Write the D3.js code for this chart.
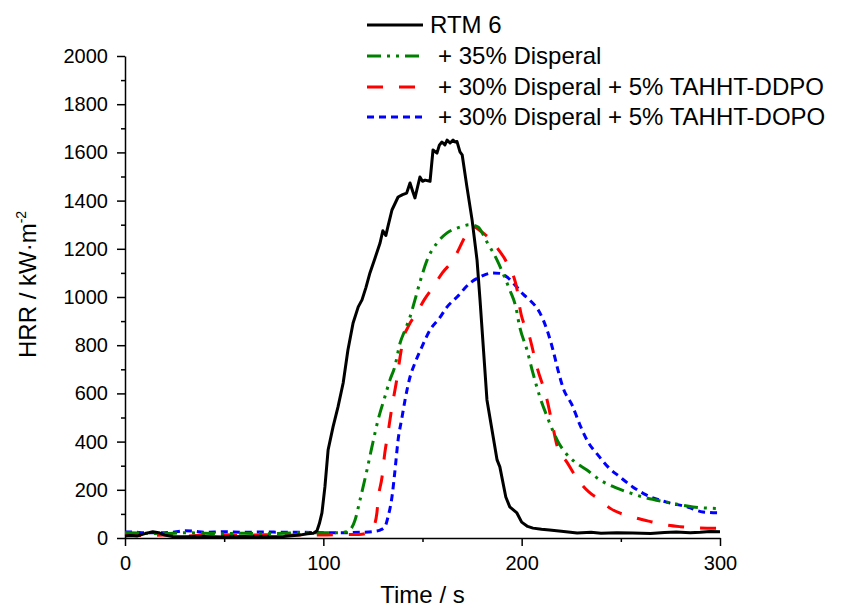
<!doctype html>
<html>
<head>
    <meta charset="UTF-8">
    <script src="https://d3js.org/d3.v7.min.js"></script>
    <title></title>
</head>

<body style="margin:0;background:#fff">

<style>
    text {
        font-family: "Liberation Sans", Arial, sans-serif;
        fill: #000000;
    }
</style>

<div id="graph"></div>

<script>
    // series (time in s, HRR in kW/m2)
    var rtmT = [0,3,6,10,14,17,20,24,30,40,50,60,70,80,88,92,95,96.8,98,99.3,100.8,102.4,104.9,107.4,110,112.4,115,117.6,119.5,121.5,123.5,126,128.6,130,131.5,132.5,134.6,137.7,140,142,143.7,145,146.2,148.7,150,151.3,153.8,155.3,157.3,158.5,159.8,161.3,162.4,163.9,165.4,166.4,167.4,168.9,170,172.4,175,177.5,179,182.5,187.6,189,192,194,197.6,200,203,205.7,210,214,220,228,235,240,248,256,265,272,278,285,290,295,300];
    var rtmV = [8,10,8,18,26,22,12,6,5,6,4,6,5,6,12,18,20,30,60,104,212,365,461,544,643,780,892,959,988,1040,1100,1160,1224,1275,1255,1290,1361,1415,1425,1431,1473,1440,1411,1498,1480,1485,1480,1610,1597,1630,1643,1631,1651,1639,1651,1643,1645,1602,1590,1457,1320,1153,988,573,324,295,170,129,104,66,48,41,36,33,28,21,24,20,22,21,19,23,25,22,24,27,26];

    var dispT = [0,10,20,30,40,50,60,70,80,90,100,108,111,113.4,116,118.5,122,124.5,127.6,131,133.6,136,138.7,141.2,143.7,146.2,149,152.3,157.3,162.4,168.9,174,178,182.5,187.6,191,194,197,199,202.7,205.7,209.2,213,216,219,221,226.9,232.9,239.5,248,254.6,263,273,286.4,300];
    var dispV = [22,20,18,22,20,18,20,18,20,22,22,22,25,33,75,158,282,378,490,585,656,710,809,863,917,988,1070,1153,1224,1266,1290,1300,1290,1228,1153,1090,1029,960,876,780,684,585,500,440,390,365,315,282,241,207,187,166,149,129,122];

    var ddpoT = [0,10,20,30,40,50,60,70,80,90,100,110,118,122,125,127,127.6,129.6,131,132.6,134.6,137,138.7,140.2,143,147.2,151,155.3,160,165.4,171.4,174,176,179,183,188,192.6,198,199,204,207.7,212.8,215.5,218.3,222.8,228.4,234,239.5,244.5,256,265,273,280,290,300];
    var ddpoV = [12,10,12,8,12,14,10,14,10,14,12,15,15,20,40,104,158,253,353,436,544,656,751,822,880,935,990,1041,1100,1153,1249,1285,1290,1275,1249,1200,1141,1017,959,834,710,573,470,370,315,241,190,158,124,87,68,54,47,41,40];

    var dopoT = [0,5,10,20,25,30,35,40,50,60,70,80,90,100,110,120,126,128.6,131,132.6,134.6,136,137.7,139.7,141.2,143.7,146.2,149.7,153.8,158.8,162,167.4,174,179,185.5,189,192.6,197.6,201,204,209.2,212.8,215.8,218.3,221,225.4,229.4,233.5,238.5,243.5,249.6,256,263,273,283.4,291.4,300];
    var dopoV = [25,24,22,22,25,30,28,24,26,24,25,24,24,22,22,24,28,33,46,87,170,270,407,502,573,668,726,793,863,915,955,1000,1058,1083,1100,1098,1083,1041,1010,988,934,863,780,697,620,552,469,398,344,295,253,212,178,149,129,108,104];

    var seriesNames = ["RTM 6", "+ 35% Disperal", "+ 30% Disperal + 5% TAHHT-DDPO", "+ 30% Disperal + 5% TAHHT-DOPO"];
    var seriesColors = ["#000000", "#008000", "#ff0000", "#0000ff"];
    var seriesDash = [null, "14,6,3,6,3,6", "16,16", "7,5"];

    var xTicks = [0, 100, 200, 300];
    var yTicks = [0, 200, 400, 600, 800, 1000, 1200, 1400, 1600, 1800, 2000];

    var w = 843, h = 610;
    var vis = d3.select("#graph").append("svg")
            .attr("width", w)
            .attr("height", h);

    var x = d3.scaleLinear().domain([0, 300]).range([125, 720]);
    var y = d3.scaleLinear().domain([0, 2000]).range([538, 56]);

    var series = [
        {t: rtmT, v: rtmV},
        {t: dispT, v: dispV},
        {t: ddpoT, v: ddpoV},
        {t: dopoT, v: dopoV}
    ];
    series.forEach(function(s, i) {
        s.name = seriesNames[i];
        s.color = seriesColors[i];
        s.dash = seriesDash[i];
        s.pts = s.t.map(function(t, j) { return [t, s.v[j]]; });
    });

    // minor ticks first, then major axes on top
    vis.append("g")
            .attr("transform", "translate(125,0)")
            .call(d3.axisLeft(y).tickValues(d3.range(100, 2000, 200)).tickSize(4).tickFormat("").tickSizeOuter(0))
            .call(function(g) { g.select(".domain").remove(); })
            .selectAll("line").attr("stroke-width", 1.5);
    vis.append("g")
            .attr("transform", "translate(0,538)")
            .call(d3.axisBottom(x).tickValues([50, 150, 250]).tickSize(4).tickFormat("").tickSizeOuter(0))
            .call(function(g) { g.select(".domain").remove(); })
            .selectAll("line").attr("stroke-width", 1.5);

    var yAxis = vis.append("g")
            .attr("transform", "translate(125,0)")
            .call(d3.axisLeft(y).tickValues(yTicks).tickFormat(d3.format("d")).tickSize(8).tickPadding(9).tickSizeOuter(0));
    var xAxis = vis.append("g")
            .attr("transform", "translate(0,538)")
            .call(d3.axisBottom(x).tickValues(xTicks).tickFormat(d3.format("d")).tickSize(8).tickPadding(10).tickSizeOuter(0));

    [yAxis, xAxis].forEach(function(a) {
        a.select(".domain").attr("stroke-width", 1.5);
        a.selectAll("line").attr("stroke-width", 1.5);
        a.selectAll("text")
                .style("font-family", '"Liberation Sans", Arial, sans-serif')
                .style("font-size", "20px")
                .attr("fill", "#000");
    });

    // curves
    var lineSmooth = d3.line()
            .x(function(d) { return x(d[0]); })
            .y(function(d) { return y(d[1]); })
            .curve(d3.curveMonotoneX);
    var lineRaw = d3.line()
            .x(function(d) { return x(d[0]); })
            .y(function(d) { return y(d[1]); });

    vis.selectAll(".curve")
            .data(series.slice().reverse())
            .enter()
            .append("path")
            .attr("class", "curve")
            .attr("d", function(d) { return d.dash ? lineSmooth(d.pts) : lineRaw(d.pts); })
            .attr("fill", "none")
            .attr("stroke", function(d) { return d.color; })
            .attr("stroke-width", 3)
            .attr("stroke-linejoin", "round")
            .attr("stroke-dasharray", function(d) { return d.dash; });

    // legend
    var legY = [25, 56, 87, 117];
    var legTx = [430, 438, 438, 438];
    var leg = vis.selectAll(".leg")
            .data(series)
            .enter()
            .append("g")
            .attr("class", "leg");
    leg.append("line")
            .attr("x1", 367).attr("x2", 423)
            .attr("y1", function(d, i) { return legY[i]; })
            .attr("y2", function(d, i) { return legY[i]; })
            .attr("stroke", function(d) { return d.color; })
            .attr("stroke-width", 3)
            .attr("stroke-dasharray", function(d) { return d.dash; });
    leg.append("text")
            .attr("x", function(d, i) { return legTx[i]; })
            .attr("y", function(d, i) { return legY[i] + 8; })
            .style("font-size", "24px")
            .text(function(d) { return d.name; });

    // axis titles
    vis.append("text")
            .attr("x", 422.5)
            .attr("y", 603)
            .attr("text-anchor", "middle")
            .style("font-size", "24px")
            .text("Time / s");

    var yt = vis.append("text")
            .attr("transform", "translate(36,358) rotate(-90)")
            .style("font-size", "24px");
    yt.append("tspan").text("HRR / kW\u00b7m");
    yt.append("tspan")
            .attr("dy", -10)
            .style("font-size", "14px")
            .text("-2");
</script>

</body>
</html>
